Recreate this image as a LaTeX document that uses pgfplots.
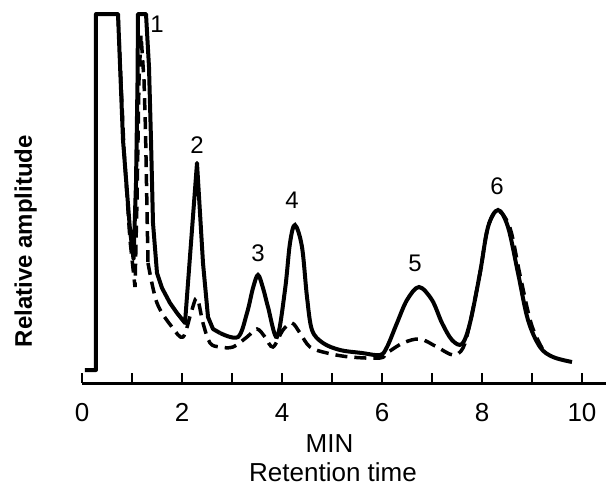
\documentclass[border=0pt]{standalone}
\usepackage{fontspec}
\setmainfont{Liberation Sans}
\usepackage{pgfplots}
\pgfplotsset{compat=1.18}
\begin{document}
\begin{tikzpicture}
\begin{axis}[
  scale only axis, width=524pt, height=370pt,
  xmin=0, xmax=10.48, ymin=0, ymax=370,
  axis x line=bottom, axis y line=none,
  axis line style={-, line width=3pt},
  xtick={0,2,...,10}, minor xtick={1,3,...,9},
  tick align=inside, major tick length=10pt, minor tick length=10pt,
  every tick/.style={black, line width=2.5pt},
  ytick=\empty,
  xticklabel style={font=\fontsize{26}{30}\selectfont, anchor=base, yshift=-38pt},
  /pgf/number format/assume math mode=true,
  clip=false,
]
% solid trace, first part (off-scale peaks and spike 2)
\addplot[black, line width=4pt, line join=round, sharp plot] coordinates {
  (0.06,13) (0.28,13) (0.28,369) (0.72,369) (0.82,243) (0.96,153) (1.03,124)
  (1.08,200) (1.11,300) (1.12,369) (1.28,369) (1.34,316) (1.38,243) (1.42,160)
  (1.50,110) (1.60,95) (1.76,80) (1.90,70) (2.06,60) (2.18,140) (2.30,220)
  (2.42,120) (2.52,66) (2.62,54) (2.76,50)
};
% solid trace, rest
\addplot[black, line width=4pt, smooth, tension=0.55] coordinates {
  (2.76,50) (3.12,46) (3.30,70) (3.42,95) (3.52,108) (3.62,95) (3.72,76)
  (3.90,46) (4.06,93) (4.16,140) (4.26,158) (4.40,136) (4.50,86) (4.60,53)
  (4.82,40) (5.16,33) (5.60,30) (5.96,28) (6.10,36) (6.30,60) (6.50,83)
  (6.74,96) (7.00,83) (7.20,60) (7.40,43) (7.60,39) (7.76,60) (7.96,110)
  (8.12,156) (8.32,173) (8.52,156) (8.72,110) (8.92,63) (9.16,36) (9.42,26)
  (9.80,21)
};
% dashed trace
\addplot[black, line width=3.5pt, dash pattern=on 12pt off 7pt, sharp plot] coordinates {
  (0.72,369) (0.84,233) (0.96,143) (1.06,96) (1.10,183) (1.14,303) (1.18,348)
  (1.24,303) (1.27,253) (1.32,120)
};
\addplot[black, line width=3.5pt, dash pattern=on 12pt off 7pt, smooth, tension=0.55] coordinates {
  (1.32,120) (1.50,80) (1.80,56) (2.02,46) (2.18,70) (2.30,85) (2.42,60)
  (2.56,40) (2.76,36) (3.02,36) (3.30,46) (3.50,54) (3.66,46) (3.82,36)
  (4.02,53) (4.20,60) (4.36,50) (4.56,36) (4.90,30) (5.36,26) (5.96,25)
  (6.10,30) (6.42,40) (6.76,44) (7.10,36) (7.42,28) (7.62,35) (7.76,60)
  (7.96,110) (8.12,156) (8.32,172) (8.56,155) (8.76,108) (8.98,60) (9.20,35)
  (9.30,30)
};
% peak numbers
\begin{scope}[every node/.style={font=\fontsize{24}{28}\selectfont}]
\node at (axis cs:1.50,359) {1};
\node at (axis cs:2.30,238) {2};
\node at (axis cs:3.52,130) {3};
\node at (axis cs:4.20,183) {4};
\node at (axis cs:6.66,120) {5};
\node at (axis cs:8.30,197) {6};
\end{scope}
% axis texts
\node[anchor=base, font=\fontsize{26}{30}\selectfont] at ([yshift=-69pt]axis cs:4.95,0) {MIN};
\node[anchor=base, font=\fontsize{26}{30}\selectfont] at ([yshift=-98pt]axis cs:5.02,0) {Retention time};
\node[anchor=base, rotate=90, font=\fontsize{24}{28}\selectfont\bfseries] at ([xshift=-50pt]axis cs:0,142) {Relative amplitude};
\end{axis}
\pgfresetboundingbox
\path[use as bounding box] ([shift={(-82pt,-108pt)}]current axis.south west) rectangle ([shift={(0pt,13pt)}]current axis.north east);
\end{tikzpicture}
\end{document}
